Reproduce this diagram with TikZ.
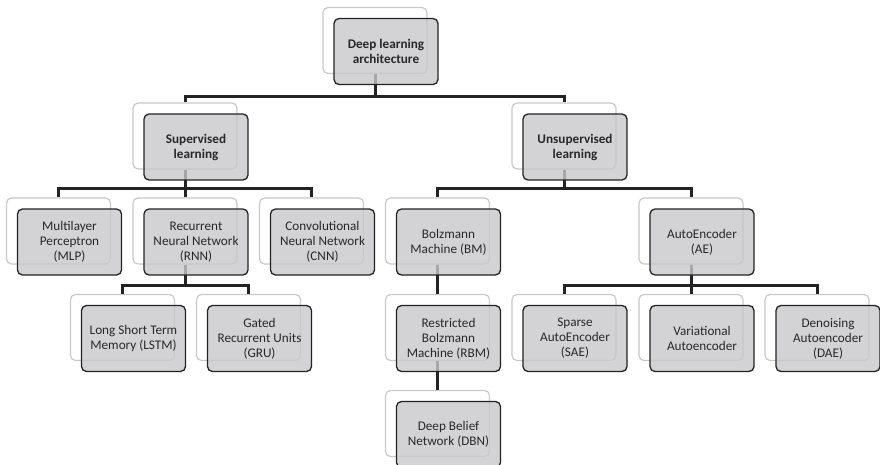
\documentclass[tikz,border=0pt]{standalone}
\usepackage{fontspec}
\setmainfont{Carlito}
\usetikzlibrary{calc}
\definecolor{boxgray}{RGB}{200,200,203}
\definecolor{rimgray}{RGB}{200,200,200}
\definecolor{inkgray}{RGB}{35,35,35}
\definecolor{textgray}{RGB}{40,40,40}
\tikzset{
  backbox/.style={draw=rimgray, line width=1.2pt, fill=white, rounded corners=5pt,
    minimum width=104pt, minimum height=66pt, inner sep=0pt},
  frontbox/.style={draw=inkgray, line width=1.3pt, fill=boxgray, fill opacity=0.8,
    text opacity=1, text=textgray, rounded corners=5pt, minimum width=104pt,
    minimum height=66pt, inner sep=0pt, align=center,
    font=\fontsize{13.2}{15}\selectfont},
  headbox/.style={frontbox, font=\fontsize{13.2}{15}\selectfont\bfseries},
  link/.style={inkgray, line width=3pt}
}

\begin{document}
\begin{tikzpicture}[x=1pt, y=-1pt]
\useasboundingbox (0,0) rectangle (880,464);
% back boxes
\node[backbox] (rootb) at (375,40.5) {};
\node[backbox] (supb) at (185,136) {};
\node[backbox] (unsupb) at (564,136) {};
\node[backbox] (mlpb) at (58.5,231) {};
\node[backbox] (rnnb) at (185,231) {};
\node[backbox] (cnnb) at (311.5,231) {};
\node[backbox] (bmb) at (437.5,231) {};
\node[backbox] (aeb) at (691,231) {};
\node[backbox] (lstmb) at (122.5,327.5) {};
\node[backbox] (grub) at (248.5,327.5) {};
\node[backbox] (rbmb) at (437.5,327.5) {};
\node[backbox] (saeb) at (564,327.5) {};
\node[backbox] (vaeb) at (691,327.5) {};
\node[backbox] (daeb) at (817,327.5) {};
\node[backbox] (dbnb) at (437.5,423.5) {};
% connectors
\draw[link] (rootb.south) -- ++(0,22) -| (supb.north);
\draw[link] (rootb.south) -- ++(0,22) -| (unsupb.north);
\draw[link] (supb.south) -- ++(0,19) -| (mlpb.north);
\draw[link] (supb.south) -- ++(0,19) -| (rnnb.north);
\draw[link] (supb.south) -- ++(0,19) -| (cnnb.north);
\draw[link] (unsupb.south) -- ++(0,19) -| (bmb.north);
\draw[link] (unsupb.south) -- ++(0,19) -| (aeb.north);
\draw[link] (rnnb.south) -- ++(0,21) -| (lstmb.north);
\draw[link] (rnnb.south) -- ++(0,21) -| (grub.north);
\draw[link] (aeb.south) -- ++(0,21) -| (saeb.north);
\draw[link] (aeb.south) -- ++(0,21) -| (vaeb.north);
\draw[link] (aeb.south) -- ++(0,21) -| (daeb.north);
\draw[link] (bmb.south) -- (rbmb.north);
\draw[link] (rbmb.south) -- (dbnb.north);
% front boxes
\node[headbox] (root) at (386,51.5) {Deep learning\\architecture};
\node[headbox] (sup) at (196,147) {Supervised\\learning};
\node[headbox] (unsup) at (575,147) {Unsupervised\\learning};
\node[frontbox] (mlp) at (69.5,242) {Multilayer\\Perceptron\\(MLP)};
\node[frontbox] (rnn) at (196,242) {Recurrent\\Neural Network\\(RNN)};
\node[frontbox] (cnn) at (322.5,242) {Convolutional\\Neural Network\\(CNN)};
\node[frontbox] (bm) at (448.5,242) {Bolzmann\\Machine (BM)};
\node[frontbox] (ae) at (702,242) {AutoEncoder\\(AE)};
\node[frontbox] (lstm) at (133.5,338.5) {Long Short Term\\Memory (LSTM)};
\node[frontbox] (gru) at (259.5,338.5) {Gated\\Recurrent Units\\(GRU)};
\node[frontbox] (rbm) at (448.5,338.5) {Restricted\\Bolzmann\\Machine (RBM)};
\node[frontbox] (sae) at (575,338.5) {Sparse\\AutoEncoder\\(SAE)};
\node[frontbox] (vae) at (702,338.5) {Variational\\Autoencoder};
\node[frontbox] (dae) at (828,338.5) {Denoising\\Autoencoder\\(DAE)};
\node[frontbox] (dbn) at (448.5,434.5) {Deep Belief\\Network (DBN)};
\end{tikzpicture}
\end{document}
